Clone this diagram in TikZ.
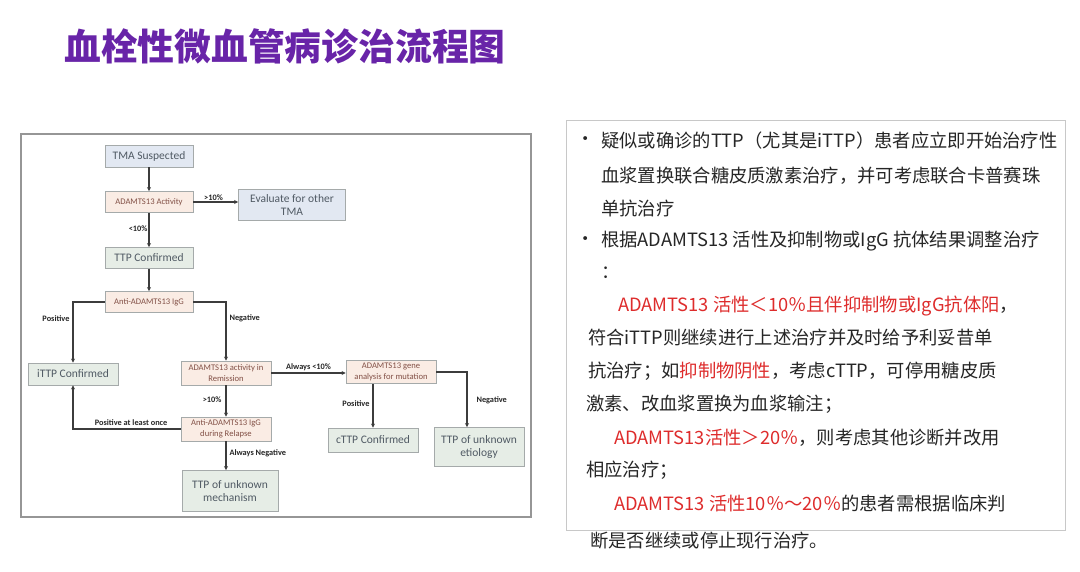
\documentclass[tikz,border=0pt]{standalone}
\usepackage{fontspec}
\setmainfont{Carlito}
\newfontfamily\cjk{Noto Sans CJK SC}
\usetikzlibrary{arrows.meta}
\definecolor{titlec}{RGB}{104,36,168}
\definecolor{redc}{RGB}{222,44,44}
\definecolor{txtc}{RGB}{38,38,38}
\definecolor{boxline}{RGB}{165,170,170}
\definecolor{boxtext}{RGB}{80,90,100}
\definecolor{peachtext}{RGB}{130,80,70}
\definecolor{bluef}{RGB}{226,232,242}
\definecolor{peachf}{RGB}{250,236,228}
\definecolor{greenf}{RGB}{230,237,230}
\definecolor{lineC}{RGB}{60,60,60}
\definecolor{framec}{RGB}{150,150,150}
\definecolor{panelc}{RGB}{200,200,200}
\begin{document}
\begin{tikzpicture}[x=1pt,y=-1pt,
  box/.style={draw=boxline, line width=0.8pt, inner sep=1pt, align=center, text=boxtext,
    font=\fontsize{11.5}{12.5}\selectfont},
  bluebox/.style={box, fill=bluef},
  peachbox/.style={box, fill=peachf, text=peachtext, font=\fontsize{8.6}{10.5}\selectfont},
  greenbox/.style={box, fill=greenf},
  arr/.style={draw=lineC, line width=1.1pt, -{Stealth[length=4pt,width=4pt]}},
  lab/.style={font=\bfseries\fontsize{8.3}{9}\selectfont, text=txtc, inner sep=1pt},
  tl/.style={anchor=west, inner sep=0pt, text=txtc, font=\cjk\fontsize{18.3}{20}\selectfont},
]
\useasboundingbox (0,0) rectangle (1080,571);
\fill[white] (0,0) rectangle (1080,571);

% title
\node[anchor=west, inner sep=0pt, text=titlec, font=\cjk\bfseries\fontsize{36.8}{38}\selectfont] (title) at (64,46) {血栓性微血管病诊治流程图};

% flowchart frame
\draw[framec, line width=1.2pt] (21,134) rectangle (531,517);

\node[bluebox, minimum width=88pt, minimum height=22pt] (tma) at (149,156) {TMA Suspected};
\node[peachbox, minimum width=88pt, minimum height=21pt] (act) at (149,202) {ADAMTS13 Activity};
\node[bluebox, minimum width=107pt, minimum height=31pt] (eval) at (292,205) {Evaluate for other\\TMA};
\node[greenbox, minimum width=88pt, minimum height=21pt] (ttp) at (149,258) {TTP Confirmed};
\node[peachbox, minimum width=88pt, minimum height=21pt] (anti) at (149,302) {Anti-ADAMTS13 IgG};
\node[greenbox, minimum width=90pt, minimum height=22pt] (ittp) at (73,374) {iTTP Confirmed};
\node[peachbox, minimum width=90pt, minimum height=24pt] (rem) at (226,373) {ADAMTS13 activity in\\Remission};
\node[peachbox, minimum width=90pt, minimum height=24pt] (rel) at (226,429) {Anti-ADAMTS13 IgG\\during Relapse};
\node[greenbox, minimum width=96pt, minimum height=41pt] (mech) at (230,491) {TTP of unknown\\mechanism};
\node[peachbox, minimum width=90pt, minimum height=23pt] (gene) at (391,372) {ADAMTS13 gene\\analysis for mutation};
\node[greenbox, minimum width=90pt, minimum height=24pt] (cttp) at (373,440) {cTTP Confirmed};
\node[greenbox, minimum width=90pt, minimum height=39pt] (etio) at (479,447) {TTP of unknown\\etiology};

% connectors
\draw[arr] (tma) -- (act);
\draw[arr] (act) -- node[lab, above, pos=0.45] (l10a) {>10\%} (act.east -| eval.west);
\draw[arr] (act) -- node[lab, left, pos=0.45] (l10b) {<10\%} (ttp);
\draw[arr] (ttp) -- (anti);
\draw[arr] (anti.west) -| node[lab, pos=0.64, left=2pt] (lpos) {Positive} (ittp.north);
\draw[arr] (anti.east) -| node[lab, pos=0.64, right=2pt] (lneg) {Negative} (rem.north);
\draw[arr] (rem.east) -- node[lab, above=1pt, pos=0.5] (lalw) {Always <10\%} (rem.east -| gene.west);
\draw[arr] (rem) -- node[lab, left=3pt, pos=0.45] (lgt) {>10\%} (rel);
\draw[arr] (rel.west) -| node[lab, pos=0.23, above=2pt] (lonce) {Positive at least once} (ittp.south);
\draw[arr] (rel.south) -- node[lab, right=2pt, pos=0.4] (lalneg) {Always Negative} (rel.south |- mech.north);
\draw[arr] (cttp.north |- gene.south) -- node[lab, left=2pt, pos=0.45] (lgpos) {Positive} (cttp.north);
\coordinate (etin) at ([xshift=-12pt]etio.north);
\draw[arr] (gene.east) -| node[lab, pos=0.76, right=8pt] (lgneg) {Negative} (etin);

% right panel
\draw[panelc, line width=0.8pt] (566,120) rectangle (1065,530);
\node[tl] (b1) at (576,141) {•};
\node[tl] (r1) at (601,141) {疑似或确诊的TTP（尤其是iTTP）患者应立即开始治疗性};
\node[tl] (r2) at (601,176) {血浆置换联合糖皮质激素治疗，并可考虑联合卡普赛珠};
\node[tl] (r3) at (601,209) {单抗治疗};
\node[tl] (b2) at (576,241) {•};
\node[tl] (r4) at (601,241) {根据ADAMTS13 活性及抑制物或IgG 抗体结果调整治疗};
\node[tl] (r5) at (601,273) {：};
\node[tl] (r6) at (618,306) {{\color{redc}ADAMTS13 活性＜10％且伴抑制物或IgG抗体阳}，};
\node[tl] (r7) at (588,338) {符合iTTP则继续进行上述治疗并及时给予利妥昔单};
\node[tl] (r8) at (588,371) {抗治疗；如{\color{redc}抑制物阴性}，考虑cTTP，可停用糖皮质};
\node[tl] (r9) at (586,404) {激素、改血浆置换为血浆输注；};
\node[tl] (r10) at (614,438) {{\color{redc}ADAMTS13活性＞20％}，则考虑其他诊断并改用};
\node[tl] (r11) at (586,470) {相应治疗；};
\node[tl] (r12) at (614,504) {{\color{redc}ADAMTS13 活性10％～20％}的患者需根据临床判};
\node[tl] (r13) at (590,541) {断是否继续或停止现行治疗。};
\end{tikzpicture}
\end{document}
